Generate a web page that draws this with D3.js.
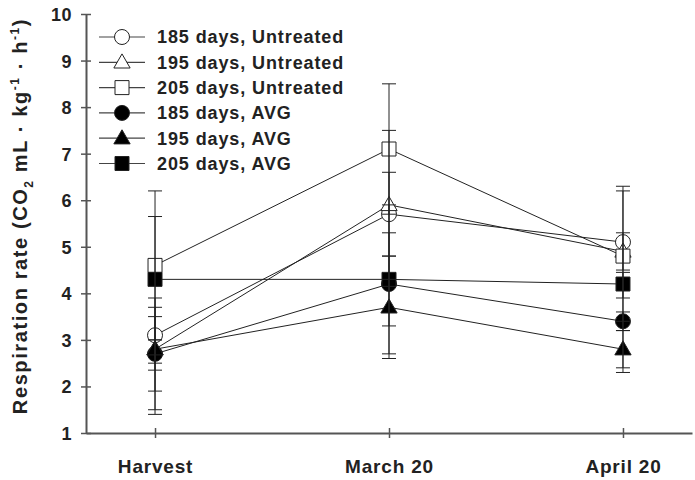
<!DOCTYPE html>
<html>
<head>
<meta charset="utf-8">
<script src="https://cdn.jsdelivr.net/npm/d3@7"></script>
<style>
  html, body { margin: 0; padding: 0; background: #fff; }
  svg { display: block; }
  text { font-family: "Liberation Sans", Arial, sans-serif; font-weight: bold; fill: #222; }
</style>
</head>
<body>
<div id="chart"></div>
<script>
// Respiration rate by storage date, three harvest ages, untreated vs AVG

const categories = ["Harvest", "March 20", "April 20"];
const yTicks = [1, 2, 3, 4, 5, 6, 7, 8, 9, 10];

const seriesNames = [
  "185 days, Untreated", "195 days, Untreated", "205 days, Untreated",
  "185 days, AVG", "195 days, AVG", "205 days, AVG"
];
const seriesShapes = ["circle", "triangle", "square", "circle", "triangle", "square"];
const seriesFilled = [false, false, false, true, true, true];

const means = [
  [3.1, 5.7, 5.1],
  [2.8, 5.9, 4.9],
  [4.6, 7.1, 4.8],
  [2.7, 4.2, 3.4],
  [2.8, 3.7, 2.8],
  [4.3, 4.3, 4.2]
];
const errHigh = [
  [3.7, 6.6, 6.3],
  [3.9, 7.5, 5.3],
  [6.2, 8.5, 6.2],
  [3.5, 5.3, 3.6],
  [3.0, 4.8, 3.2],
  [5.65, 5.9, 4.45]
];
const errLow = [
  [2.5, 4.8, 3.9],
  [1.4, 4.3, 4.5],
  [3.0, 5.7, 3.4],
  [1.9, 3.3, 3.2],
  [2.35, 2.6, 2.4],
  [1.5, 2.7, 2.3]
];

const W = 695, H = 480;
const ink = "#222";
const axisColor = "#555";
const FONT = "Liberation Sans, Arial, sans-serif";

const svg = d3.select("#chart").append("svg")
  .attr("width", W).attr("height", H);

const x = d3.scalePoint().domain(categories).range([86, 692]).padding(0.295);
const y = d3.scaleLinear().domain([1, 10]).range([433, 14]);

function symbolPath(shape) {
  if (shape === "circle") return d3.symbol().type(d3.symbolCircle).size(Math.PI * 7.5 * 7.5)();
  if (shape === "square") return d3.symbol().type(d3.symbolSquare).size(14 * 14)();
  return d3.symbol().type(d3.symbolTriangle).size(115)();
}

function drawMarker(g, i, cx, cy) {
  g.append("path")
    .attr("d", symbolPath(seriesShapes[i]))
    .attr("transform", `translate(${cx},${cy + (seriesShapes[i] === "triangle" ? 1 : 0)})`)
    .attr("fill", seriesFilled[i] ? "#000" : "#fff")
    .attr("stroke", ink)
    .attr("stroke-width", 1);
}

// Axes
const yAxisG = svg.append("g")
  .attr("transform", "translate(86,0)")
  .call(d3.axisLeft(y).tickValues(yTicks).tickSize(5).tickPadding(9).tickSizeOuter(0));
yAxisG.select(".domain").attr("stroke", axisColor).attr("stroke-width", 2);
yAxisG.selectAll(".tick line")
  .attr("stroke", axisColor).attr("stroke-width", 1.5)
  .attr("x1", 5).attr("x2", -5);
yAxisG.selectAll(".tick text")
  .attr("font-size", "18px").attr("font-family", FONT)
  .attr("font-weight", "bold").attr("fill", "#222")
  .attr("letter-spacing", "0.5px").attr("dy", "0.36em");

const xAxisG = svg.append("g")
  .attr("transform", "translate(0,433)")
  .call(d3.axisBottom(x).tickSize(5).tickPadding(22).tickSizeOuter(0));
xAxisG.select(".domain").attr("stroke", axisColor).attr("stroke-width", 2);
xAxisG.selectAll(".tick line")
  .attr("stroke", axisColor).attr("stroke-width", 1.5)
  .attr("y1", -5).attr("y2", 5);
xAxisG.selectAll(".tick text")
  .attr("font-size", "19px").attr("font-family", FONT)
  .attr("font-weight", "bold").attr("fill", "#222")
  .attr("letter-spacing", "0.8px");

// Y title
const title = svg.append("text")
  .attr("transform", "translate(27,216) rotate(-90)")
  .attr("text-anchor", "middle")
  .attr("font-size", "20px")
  .attr("letter-spacing", "1.6px");
title.append("tspan").text("Respiration rate (CO");
title.append("tspan").attr("font-size", "12px").attr("dy", 6).text("2");
title.append("tspan").attr("dy", -6).text(" mL · kg");
title.append("tspan").attr("font-size", "12px").attr("dy", -8).text("-1");
title.append("tspan").attr("dy", 8).text(" · h");
title.append("tspan").attr("font-size", "12px").attr("dy", -8).text("-1");
title.append("tspan").attr("dy", 8).text(")");

// Series lines
const plot = svg.append("g");
const line = d3.line().x((d, j) => x(categories[j])).y(d => y(d));
means.forEach(vals => {
  plot.append("path")
    .datum(vals)
    .attr("d", line)
    .attr("fill", "none")
    .attr("stroke", ink)
    .attr("stroke-width", 1);
});

// Markers
means.forEach((vals, i) => {
  vals.forEach((v, j) => drawMarker(plot, i, x(categories[j]), y(v)));
});

// Error bars on top
means.forEach((vals, i) => {
  vals.forEach((v, j) => {
    const cx = x(categories[j]);
    const hi = y(errHigh[i][j]), lo = y(errLow[i][j]);
    plot.append("line")
      .attr("x1", cx).attr("x2", cx).attr("y1", hi).attr("y2", lo)
      .attr("stroke", ink).attr("stroke-width", 1);
    [hi, lo].forEach(yy => {
      plot.append("line")
        .attr("x1", cx - 7).attr("x2", cx + 7).attr("y1", yy).attr("y2", yy)
        .attr("stroke", ink).attr("stroke-width", 1);
    });
  });
});

// Legend
const legend = svg.append("g");
seriesNames.forEach((name, i) => {
  const ly = 37 + i * 25.3;
  legend.append("line")
    .attr("x1", 99).attr("x2", 145).attr("y1", ly).attr("y2", ly)
    .attr("stroke", "#444").attr("stroke-width", 1.2);
  drawMarker(legend, i, 122, ly);
  legend.append("text")
    .attr("x", 157).attr("y", ly)
    .attr("dy", "0.36em")
    .attr("font-size", "18px")
    .attr("letter-spacing", "0.9px")
    .text(name);
});
</script>
</body>
</html>
